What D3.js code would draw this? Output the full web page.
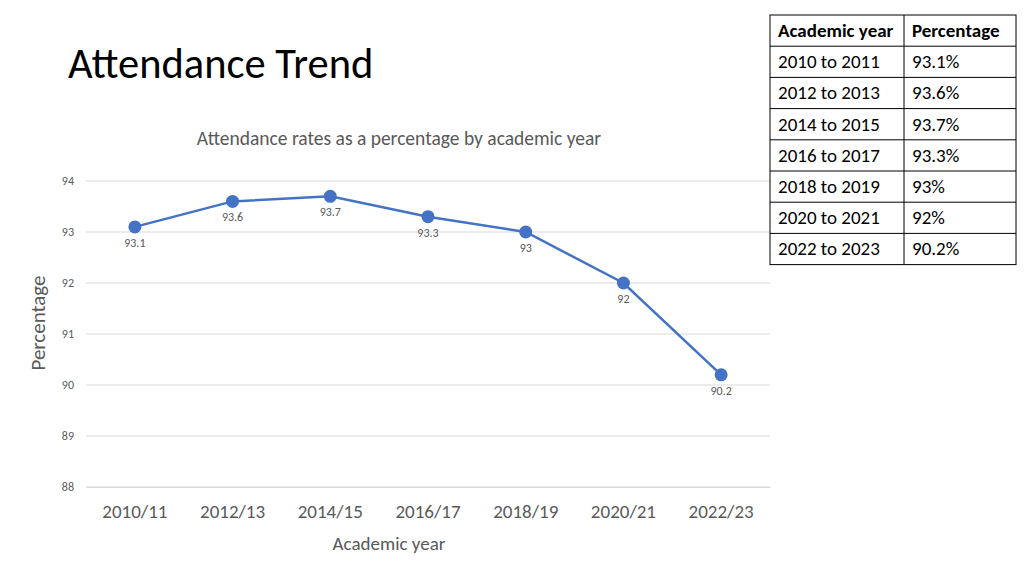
<!DOCTYPE html>
<html lang="en">
<head>
<meta charset="UTF-8">
<title>Attendance Trend</title>
<script src="https://d3js.org/d3.v7.min.js"></script>
<style>
  body { margin: 0; background: #fff; }
  text { font-family: Carlito, Lato, "Open Sans", sans-serif; }
</style>
</head>
<body>
<script>
    // chart data
    var years = ["2010/11", "2012/13", "2014/15", "2016/17", "2018/19", "2020/21", "2022/23"];
    var rates = [93.1, 93.6, 93.7, 93.3, 93, 92, 90.2];
    var yTicks = [88, 89, 90, 91, 92, 93, 94];

    // table data
    var tableHead = ["Academic year", "Percentage"];
    var tableYears = ["2010 to 2011", "2012 to 2013", "2014 to 2015", "2016 to 2017", "2018 to 2019", "2020 to 2021", "2022 to 2023"];
    var tablePct = ["93.1%", "93.6%", "93.7%", "93.3%", "93%", "92%", "90.2%"];

    var width = 1024, height = 576;
    var plotL = 86, plotR = 770, plotT = 181, plotB = 487;
    var blue = "#4472C4", grey = "#595959";

    var svg = d3.select("body").append("svg")
        .attr("width", width)
        .attr("height", height);

    svg.append("text")
        .attr("x", 68).attr("y", 78)
        .attr("font-size", "42.5px")
        .attr("fill", "#000")
        .text("Attendance Trend");

    var x = d3.scaleBand().domain(years).range([plotL, plotR]);
    var y = d3.scaleLinear().domain([88, 94]).range([plotB, plotT]);

    // gridlines
    svg.append("g").selectAll("line")
        .data(yTicks)
        .enter().append("line")
        .attr("x1", plotL).attr("x2", plotR)
        .attr("y1", function (d) { return y(d); })
        .attr("y2", function (d) { return y(d); })
        .attr("stroke", "#d9d9d9")
        .attr("stroke-width", 1);

    var yAxis = d3.axisLeft(y).tickValues(yTicks).tickFormat(d3.format("d")).tickSize(0).tickPadding(12);
    var gy = svg.append("g").attr("transform", "translate(" + plotL + ",0)").call(yAxis);
    gy.select(".domain").remove();
    gy.selectAll("text").attr("font-size", "12px").attr("fill", grey)
        .style("font-family", "Carlito, Lato, sans-serif");

    var xAxis = d3.axisBottom(x).tickSize(0).tickPadding(18);
    var gx = svg.append("g").attr("transform", "translate(0," + plotB + ")").call(xAxis);
    gx.select(".domain").attr("stroke", "#d9d9d9");
    gx.selectAll("text").attr("font-size", "19px").attr("fill", grey)
        .style("font-family", "Carlito, Lato, sans-serif");

    svg.append("text")
        .attr("x", 399).attr("y", 145)
        .attr("text-anchor", "middle")
        .attr("font-size", "19.5px")
        .attr("fill", grey)
        .text("Attendance rates as a percentage by academic year");

    svg.append("text")
        .attr("transform", "translate(45,323) rotate(-90)")
        .attr("text-anchor", "middle")
        .attr("font-size", "21px")
        .attr("fill", grey)
        .text("Percentage");

    svg.append("text")
        .attr("x", 389).attr("y", 550)
        .attr("text-anchor", "middle")
        .attr("font-size", "19px")
        .attr("fill", grey)
        .text("Academic year");

    var line = d3.line()
        .x(function (d, i) { return x(years[i]) + x.bandwidth() / 2; })
        .y(function (d) { return y(d); });

    svg.append("path")
        .datum(rates)
        .attr("d", line)
        .attr("fill", "none")
        .attr("stroke", blue)
        .attr("stroke-width", 2.5);

    svg.append("g").selectAll("circle")
        .data(rates)
        .enter().append("circle")
        .attr("cx", function (d, i) { return x(years[i]) + x.bandwidth() / 2; })
        .attr("cy", function (d) { return y(d); })
        .attr("r", 6.5)
        .attr("fill", blue);

    svg.append("g").selectAll("text")
        .data(rates)
        .enter().append("text")
        .attr("x", function (d, i) { return x(years[i]) + x.bandwidth() / 2; })
        .attr("y", function (d) { return y(d) + 20; })
        .attr("text-anchor", "middle")
        .attr("font-size", "12px")
        .attr("fill", grey)
        .text(function (d) { return d; });

    // table top right
    var tx = 770, colX = 904, tRight = 1016, tTop = 15, rowH = 31.2;
    var rows = [tableHead].concat(tableYears.map(function (d, i) { return [d, tablePct[i]]; }));
    var tbl = svg.append("g");

    tbl.append("rect")
        .attr("x", tx).attr("y", tTop)
        .attr("width", tRight - tx).attr("height", rowH * rows.length)
        .attr("fill", "#fff").attr("stroke", "#000").attr("stroke-width", 1);

    tbl.selectAll("line.row")
        .data(d3.range(1, rows.length))
        .enter().append("line")
        .attr("x1", tx).attr("x2", tRight)
        .attr("y1", function (d) { return tTop + d * rowH; })
        .attr("y2", function (d) { return tTop + d * rowH; })
        .attr("stroke", "#000");

    tbl.append("line")
        .attr("x1", colX).attr("x2", colX)
        .attr("y1", tTop).attr("y2", tTop + rowH * rows.length)
        .attr("stroke", "#000");

    var cells = tbl.selectAll("g.r")
        .data(rows)
        .enter().append("g");

    cells.append("text")
        .attr("x", tx + 8)
        .attr("y", function (d, i) { return tTop + i * rowH + 22; })
        .attr("font-size", "19px")
        .attr("font-weight", function (d, i) { return i === 0 ? "bold" : "normal"; })
        .attr("fill", "#000")
        .text(function (d) { return d[0]; });

    cells.append("text")
        .attr("x", colX + 8)
        .attr("y", function (d, i) { return tTop + i * rowH + 22; })
        .attr("font-size", "19px")
        .attr("font-weight", function (d, i) { return i === 0 ? "bold" : "normal"; })
        .attr("fill", "#000")
        .text(function (d) { return d[1]; });
</script>
</body>
</html>
